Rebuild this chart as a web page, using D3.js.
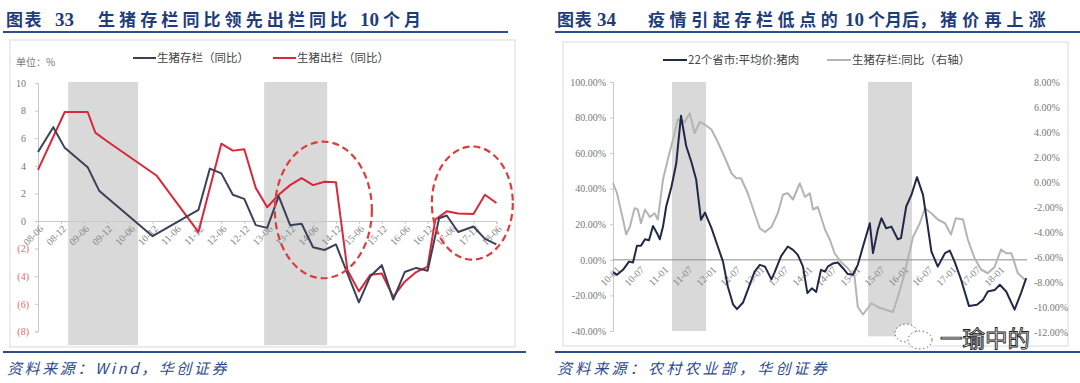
<!DOCTYPE html>
<html><head><meta charset="utf-8">
<script src="https://cdn.jsdelivr.net/npm/d3@7/dist/d3.min.js"></script>
<style>body{margin:0;background:#fff;}svg{display:block;}</style>
</head><body>
<svg id="c" width="1080" height="383"></svg>
<script>
// ---------------- DATA ----------------
// Chart 33: months since 2008-06, value (%)
const c33XLabels = ["08-06","08-12","09-06","09-12","10-06","10-12","11-06","11-12","12-06","12-12","13-06","13-12","14-06","14-12","15-06","15-12","16-06","16-12","17-06","17-12","18-06"];
const c33YTicks = [10,8,6,4,2,0,-2,-4,-6,-8];
const c33Stock = [[0,5.0],[4,6.8],[7,5.3],[13,3.9],[16,2.2],[30,-1.1],[42,0.8],[45,3.8],[48,3.45],[51,1.9],[54,1.6],[57,-0.3],[60,-0.5],[63,1.8],[66,-0.3],[69,-0.2],[72,-1.9],[75,-2.1],[78,-1.7],[81,-3.8],[84,-5.9],[87,-4.0],[90,-3.2],[93,-5.7],[96,-3.7],[99,-3.4],[102,-3.6],[105,0.2],[107,0.4],[110,-0.8],[114,-0.4],[117,-1.3],[120,-1.7]];
const c33Slaughter = [[0,3.7],[7,7.9],[13,7.9],[15,6.4],[18,5.8],[31,3.3],[42,-0.8],[48,5.6],[51,5.1],[54,5.2],[57,2.4],[60,1.0],[63,1.9],[66,2.6],[69,3.1],[72,2.6],[75,2.85],[78,2.8],[81,-3.55],[84,-5.1],[87,-3.9],[90,-3.8],[93,-5.5],[96,-4.4],[99,-3.7],[102,-3.3],[104,0.1],[107,0.7],[110,0.55],[114,0.5],[117,1.9],[120,1.3]];
const c33Bands = [[7.9,26.2],[59.2,75.7]];
const c33Ellipses = [[74.7,0.8,12.7,4.95],[113.7,1.3,10.6,4.1]]; // center month, center value, radius months, radius value
const c33Legend = ["生猪存栏（同比）","生猪出栏（同比）"];

// Chart 34: months since 2010-01
const c34XLabels = ["10-01","10-07","11-01","11-07","12-01","12-07","13-01","13-07","14-01","14-07","15-01","15-07","16-01","16-07","17-01","17-07","18-01"];
const c34YLeftTicks = [100,80,60,40,20,0,-20,-40];
const c34YRightTicks = [8,6,4,2,0,-2,-4,-6,-8,-10,-12];
const c34Price = [[0,-7],[1,-8.4],[2.5,-5.6],[4,-1],[5,-1.5],[6,8],[7,8],[8,11.6],[9,11],[10,19],[11,15],[11.7,11.6],[12.5,18.7],[13.3,30],[14.6,41],[15.8,54],[17,81],[18.3,64],[19.6,55],[20.8,45],[22,22.5],[23,26.6],[24.6,18],[26.2,7.5],[27.5,-1],[28.7,-15],[30,-25],[31,-27.7],[32.5,-24],[34,-15],[35.4,-6.6],[36.7,-2.8],[38,-3.8],[39.6,-11],[40.4,-7],[42,2],[43.7,7.5],[45,5.6],[46.2,2.8],[47.5,-3.8],[48.6,-18.7],[49.7,-16],[50.8,-18],[52,-5.6],[53,-6.6],[53.7,-3.8],[55,-2],[56.2,-1.5],[57.5,-4.7],[58.7,-8],[60,-8.4],[61.2,-2.8],[62.5,7.5],[64.2,20.6],[65,3.8],[66.2,17],[67.1,23.4],[68.3,17.8],[69.6,18.7],[71.2,11.6],[72,12.2],[73.3,30],[74.6,36.5],[76,46.5],[77.5,36.5],[78.7,18.7],[79.6,4.7],[81.2,-3.8],[83,3.8],[84.2,5.2],[85.4,-1],[87,-11],[89,-26],[91,-25.3],[92.5,-22.5],[93.7,-17.8],[95.4,-17],[96.7,-14],[98.3,-17.8],[100.4,-28],[102,-18.7],[103.3,-10.3]];
const c34Stock = [[0,-0.1],[1,-0.9],[2.5,-3.0],[3.3,-4.2],[4.2,-3.6],[5.4,-2.1],[6.2,-2.2],[7,-3.3],[8,-2.2],[9.2,-2.8],[10.4,-2.5],[11.2,-3.0],[12.5,0.2],[13.7,1.8],[15,3.4],[16.2,5.0],[17.9,4.8],[19.2,5.5],[20.4,3.9],[21.7,4.8],[22.9,4.6],[24.6,4.2],[26.2,3.2],[27.9,2.0],[29.6,0.7],[30.8,0.3],[32,0.3],[33.7,-0.9],[35.4,-2.5],[36.7,-3.7],[38,-4.0],[39.6,-3.6],[41.2,-2.5],[42.5,-1.0],[43.7,-0.9],[45,-1.4],[46.7,-0.1],[48,-1.2],[49.2,-0.9],[50,-2.2],[51.2,-2.0],[53,-3.8],[54.2,-4.6],[55.4,-5.7],[57,-6.4],[58.7,-6.9],[60.4,-7.6],[61.2,-10.0],[62.5,-10.6],[64.6,-9.7],[66.2,-10.0],[68,-10.2],[70,-10.4],[71.2,-9.2],[72.5,-7.8],[73.7,-6.2],[75,-4.4],[76.7,-3.3],[78,-2.1],[79.6,-2.5],[81.2,-3.0],[83,-3.3],[84.5,-4.2],[85.7,-2.9],[87.5,-3.0],[88.7,-4.6],[90.4,-6.1],[92,-7.0],[93.7,-7.3],[95.4,-6.8],[97,-5.4],[98.3,-5.7],[99.6,-5.7],[101.2,-7.3],[102.9,-7.8]];
const c34Bands = [[14.75,23.25,-40],[63.75,74.75,-43]];
const c34Legend = ["22个省市:平均价:猪肉","生猪存栏:同比（右轴）"];

// ---------------- DRAW ----------------
const svg = d3.select("#c");
const CJK = "'Noto Sans CJK SC','Noto Sans',sans-serif";
const SERIF = "'Liberation Serif','DejaVu Serif',serif";
const BLUE = "#1f3d7a", RULE = "#2c4f8f";

// titles
function title(parts, y){
  const t = svg.append("text").attr("y", y).attr("fill", BLUE).attr("font-weight","700");
  parts.forEach(p => {
    t.append("tspan").attr("x", p[1]).text(p[0])
      .attr("font-family", p[2] ? SERIF : CJK)
      .attr("font-size", p[2] ? 19 : 17)
      .attr("letter-spacing", p[3] || 0);
  });
}
title([["图表",6,false,1.5],["33",55,true],["生猪存栏同比领先出栏同比",98,false,4.1],["10",360,true],["个月",383,false,4]], 26);
title([["图表",557,false,0.8],["34",597,true],["疫情引起存栏低点的",648,false,4.6],["10",845,true],["个月后，",868,false,0],["猪价再上涨",940,false,5.2]], 26);

// rules
[[3,508,32],[555,1080,32],[3,526,352],[555,1080,352]].forEach(r=>{
  svg.append("line").attr("x1",r[0]).attr("x2",r[1]).attr("y1",r[2]).attr("y2",r[2]).attr("stroke",RULE).attr("stroke-width",2);
});

// sources
svg.append("text").attr("x",7).attr("y",374).attr("fill","#2d4b8e").attr("font-size",15).attr("font-style","italic")
  .attr("font-family",CJK).attr("letter-spacing",2.6).text("资料来源：Wind，华创证券");
svg.append("text").attr("x",557).attr("y",374).attr("fill","#2d4b8e").attr("font-size",15).attr("font-style","italic")
  .attr("font-family",CJK).attr("letter-spacing",3.2).text("资料来源：农村农业部，华创证券");

// frames
svg.append("rect").attr("x",10).attr("y",40).attr("width",505).attr("height",307).attr("fill","#fff").attr("stroke","#e6e6e6").attr("stroke-width",1.5);
svg.append("rect").attr("x",563).attr("y",42).attr("width",505).attr("height",304).attr("fill","#fff").attr("stroke","#e6e6e6").attr("stroke-width",1.5);

// ===== Chart 33 =====
const x33 = d3.scaleLinear().domain([0,120]).range([38,496.4]);
const y33 = d3.scaleLinear().domain([-8,10]).range([331.4,83]);
const g33 = svg.append("g");
g33.selectAll("rect.band").data(c33Bands).join("rect")
  .attr("x",d=>x33(d[0])).attr("width",d=>x33(d[1])-x33(d[0]))
  .attr("y",y33(10)-1).attr("height",y33(-9)-y33(10)+1).attr("fill","#d9d9d9");

const yAx33 = g33.append("g").attr("transform",`translate(${x33(0)},0)`)
  .call(d3.axisLeft(y33).tickValues(c33YTicks).tickSize(3).tickPadding(9)
    .tickFormat(v => v < 0 ? `(${-v})` : `${v}`));
yAx33.select(".domain").attr("stroke","#c8c8c8");
yAx33.selectAll(".tick line").attr("stroke","#c8c8c8");
yAx33.selectAll(".tick text").attr("font-family",SERIF).attr("font-size",10)
  .attr("fill",v => v < 0 ? "#e06a6a" : "#777").attr("dx",v => v < 0 ? 3 : 0);

const xAx33 = g33.append("g").attr("transform",`translate(0,${y33(0)})`)
  .call(d3.axisBottom(x33).tickValues(c33XLabels.map((_,i)=>i*6)).tickSize(3).tickFormat((_,i)=>c33XLabels[i]));
xAx33.select(".domain").attr("stroke","#c8c8c8");
xAx33.selectAll(".tick line").attr("stroke","#c8c8c8");
xAx33.selectAll(".tick text").attr("font-family",SERIF).attr("font-size",10).attr("fill","#888")
  .attr("text-anchor","end").attr("x",0).attr("y",0).attr("dy","0.35em").attr("transform","translate(3,6) rotate(-45)");

const line33 = d3.line().x(d=>x33(d[0])).y(d=>y33(d[1]));
g33.append("path").datum(c33Slaughter).attr("d",line33).attr("fill","none").attr("stroke","#d8283a").attr("stroke-width",2).attr("stroke-linejoin","round");
g33.append("path").datum(c33Stock).attr("d",line33).attr("fill","none").attr("stroke","#3b4157").attr("stroke-width",2).attr("stroke-linejoin","round");

g33.selectAll("ellipse").data(c33Ellipses).join("ellipse")
  .attr("cx",d=>x33(d[0])).attr("cy",d=>y33(d[1]))
  .attr("rx",d=>x33(d[2])-x33(0)).attr("ry",d=>y33(0)-y33(d[3]))
  .attr("fill","none").attr("stroke","#dc3c3c").attr("stroke-width",2.2).attr("stroke-dasharray","7,4");

g33.append("text").attr("x",16).attr("y",66).attr("font-family",CJK).attr("font-size",10).attr("fill","#777").text("单位：%");
const leg33 = [[133,"#3b4157"],[273,"#d8283a"]];
leg33.forEach((l,i)=>{
  g33.append("line").attr("x1",l[0]).attr("x2",l[0]+23).attr("y1",58).attr("y2",58).attr("stroke",l[1]).attr("stroke-width",2);
  g33.append("text").attr("x",l[0]+24).attr("y",62).attr("font-family",CJK).attr("font-size",11.5).attr("fill","#444").text(c33Legend[i]);
});

// ===== Chart 34 =====
const x34 = d3.scaleLinear().domain([0,104]).range([613,1029]);
const yL34 = d3.scaleLinear().domain([-40,100]).range([331,82]);
const yR34 = d3.scaleLinear().domain([-12,8]).range([332,82]);
const g34 = svg.append("g");
g34.selectAll("rect.band").data(c34Bands).join("rect")
  .attr("x",d=>x34(d[0])).attr("width",d=>x34(d[1])-x34(d[0]))
  .attr("y",yL34(100)).attr("height",d=>yL34(d[2])-yL34(100)).attr("fill","#d9d9d9");

const yAxL = g34.append("g").attr("transform",`translate(${x34(0)},0)`)
  .call(d3.axisLeft(yL34).tickValues(c34YLeftTicks).tickSize(3).tickPadding(4).tickFormat(v=>v.toFixed(2)+"%"));
yAxL.select(".domain").attr("stroke","#c8c8c8");
yAxL.selectAll(".tick line").attr("stroke","#c8c8c8");
yAxL.selectAll(".tick text").attr("font-family",SERIF).attr("font-size",10).attr("fill","#777");

const yAxR = g34.append("g").attr("transform",`translate(1031,0)`)
  .call(d3.axisRight(yR34).tickValues(c34YRightTicks).tickSize(0).tickPadding(3).tickFormat(v=>v.toFixed(2)+"%"));
yAxR.select(".domain").remove();
yAxR.selectAll(".tick text").attr("font-family",SERIF).attr("font-size",10).attr("fill","#777");

const xAx34 = g34.append("g").attr("transform",`translate(0,${yL34(0)})`)
  .call(d3.axisBottom(x34).tickValues(c34XLabels.map((_,i)=>i*6)).tickSize(0).tickFormat((_,i)=>c34XLabels[i]));
xAx34.select(".domain").attr("stroke","#8a8a8a").attr("d",`M${x34(0)},0H1027`);
xAx34.selectAll(".tick text").attr("font-family",SERIF).attr("font-size",10).attr("fill","#888")
  .attr("text-anchor","end").attr("x",0).attr("y",0).attr("dy","0.35em").attr("transform","translate(5,8) rotate(-45)");

g34.append("path").datum(c34Stock).attr("d",d3.line().x(d=>x34(d[0])).y(d=>yR34(d[1])))
  .attr("fill","none").attr("stroke","#b4b4b4").attr("stroke-width",2).attr("stroke-linejoin","round");
g34.append("path").datum(c34Price).attr("d",d3.line().x(d=>x34(d[0])).y(d=>yL34(d[1])))
  .attr("fill","none").attr("stroke","#202947").attr("stroke-width",2).attr("stroke-linejoin","round");

const leg34 = [[663,"#202947"],[827,"#b4b4b4"]];
leg34.forEach((l,i)=>{
  g34.append("line").attr("x1",l[0]).attr("x2",l[0]+24).attr("y1",60).attr("y2",60).attr("stroke",l[1]).attr("stroke-width",2);
  g34.append("text").attr("x",l[0]+25).attr("y",64).attr("font-family",CJK).attr("font-size",11.5).attr("fill","#444").text(c34Legend[i]);
});

// watermark
const wm = svg.append("g");
wm.append("ellipse").attr("cx",906).attr("cy",333).attr("rx",11).attr("ry",9).attr("fill","#fff").attr("stroke","#333").attr("stroke-width",0.8).attr("stroke-dasharray","1.5,2.5");
wm.append("ellipse").attr("cx",920).attr("cy",340).attr("rx",12).attr("ry",9).attr("fill","#fff").attr("stroke","#333").attr("stroke-width",0.8).attr("stroke-dasharray","1.5,2.5");
wm.append("text").attr("x",940).attr("y",347).attr("font-family",CJK).attr("font-size",22.5).attr("fill","#fff")
  .attr("stroke","#222").attr("stroke-width",0.9).text("一瑜中的");
</script>
</body></html>
